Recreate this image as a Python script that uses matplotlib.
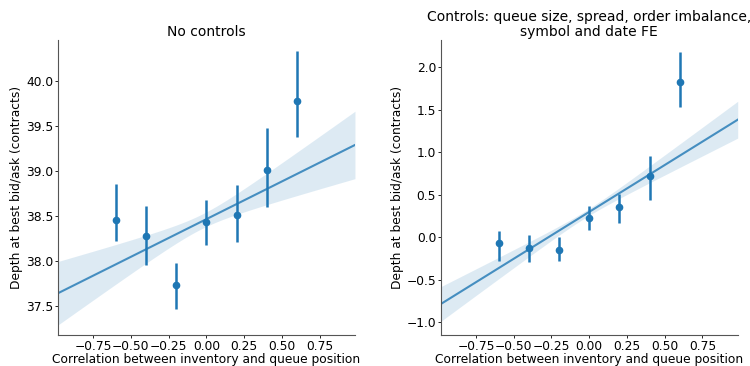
import numpy as np
import matplotlib
matplotlib.use("Agg")
import matplotlib.pyplot as plt

# binned correlation values (bin centres)
x_bins = [-0.6, -0.4, -0.2, 0.0, 0.2, 0.4, 0.6]

# panel 1: no controls
depth_raw = [38.46, 38.28, 37.73, 38.43, 38.51, 39.01, 39.77]
depth_raw_lo = [38.22, 37.96, 37.47, 38.18, 38.21, 38.60, 39.37]
depth_raw_hi = [38.85, 38.61, 37.98, 38.68, 38.84, 39.47, 40.33]
fit_raw = {"intercept": 38.464, "slope": 0.836, "se0": 0.08, "se1": 0.36, "xc": -0.03}

# panel 2: with controls
depth_ctl = [-0.067, -0.125, -0.145, 0.231, 0.361, 0.718, 1.827]
depth_ctl_lo = [-0.282, -0.294, -0.275, 0.086, 0.165, 0.443, 1.537]
depth_ctl_hi = [0.078, 0.027, 0.0, 0.365, 0.510, 0.961, 2.184]
fit_ctl = {"intercept": 0.298, "slope": 1.102, "se0": 0.04, "se1": 0.21, "xc": -0.03}

titles = ["No controls",
          "Controls: queue size, spread, order imbalance,\nsymbol and date FE"]
xlabel = "Correlation between inventory and queue position"
ylabel = "Depth at best bid/ask (contracts)"
xlim = (-0.982, 0.984)
ylims = [(37.18, 40.45), (-1.15, 2.32)]

color = "#1f77b4"
fs = 8.8

fig = plt.figure(figsize=(7.5, 3.66), dpi=100)
ax1 = fig.add_axes([0.0773, 0.0847, 0.396, 0.806])
ax2 = fig.add_axes([0.588, 0.0847, 0.3956, 0.806])

panels = [
    (ax1, depth_raw, depth_raw_lo, depth_raw_hi, fit_raw),
    (ax2, depth_ctl, depth_ctl_lo, depth_ctl_hi, fit_ctl),
]

for i, (ax, y, lo, hi, fit) in enumerate(panels):
    y = np.array(y)
    yerr = [y - np.array(lo), np.array(hi) - y]
    ax.errorbar(x_bins, y, yerr=yerr, fmt="o", color=color, ms=4.5,
                elinewidth=1.8, capsize=0, zorder=3)

    xs = np.linspace(xlim[0], xlim[1], 100)
    line = fit["intercept"] + fit["slope"] * xs
    hw = np.sqrt(fit["se0"] ** 2 + (fit["se1"] * (xs - fit["xc"])) ** 2)
    ax.plot(xs, line, color=color, lw=1.5, alpha=0.8)
    ax.fill_between(xs, line - hw, line + hw, color=color, alpha=0.15, lw=0)

    ax.set_xlim(xlim)
    ax.set_ylim(ylims[i])
    ax.set_xticks([-0.75, -0.5, -0.25, 0.0, 0.25, 0.5, 0.75])
    ax.set_title(titles[i], fontsize=10, pad=3, linespacing=1.05)
    ax.set_xlabel(xlabel, fontsize=fs, labelpad=0)
    ax.set_ylabel(ylabel, fontsize=fs, labelpad=2)
    ax.tick_params(labelsize=fs, length=2, pad=1.5, width=0.6)
    for s in ["left", "bottom"]:
        ax.spines[s].set_color("#555555")
        ax.spines[s].set_linewidth(0.8)
    ax.spines["top"].set_visible(False)
    ax.spines["right"].set_visible(False)

fig.savefig("out.png", dpi=100)
